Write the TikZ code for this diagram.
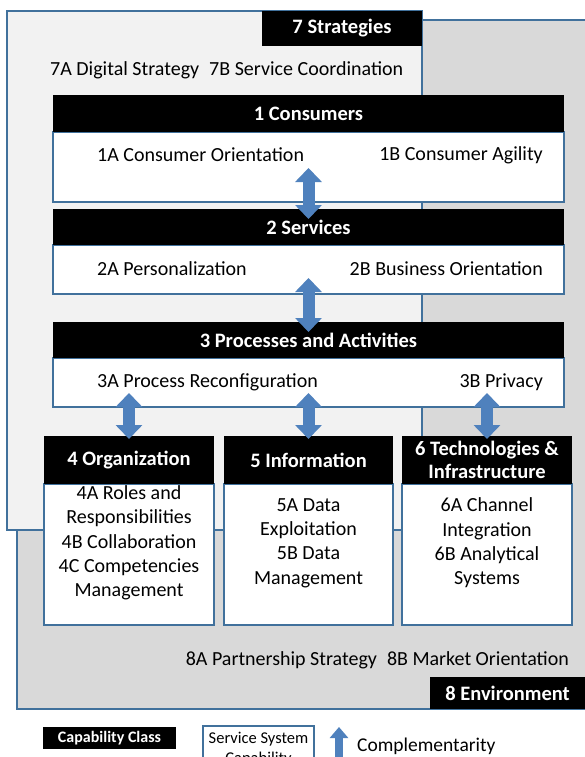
\documentclass[tikz,border=0pt]{standalone}
\usepackage{fontspec}
\setmainfont{Carlito}
\usetikzlibrary{arrows.meta}

\definecolor{frame}{HTML}{41719C}
\definecolor{compl}{HTML}{4F81BD}
\definecolor{stratgray}{HTML}{F2F2F2}
\definecolor{envgray}{HTML}{D9D9D9}

\begin{document}
\begin{tikzpicture}[x=1pt,y=-1pt,
    every node/.style={font=\fontsize{20}{24.3}\selectfont},
    panel/.style={draw=frame,line width=1.2pt,inner sep=0pt,outer sep=0pt},
    head/.style={fill=black,text=white,inner sep=0pt,outer sep=0pt,align=center,
        font=\fontsize{20.5}{23}\selectfont\bfseries},
    cell/.style={panel,fill=white},
    item/.style={inner sep=0pt,align=center},
    twoway/.style={compl,line width=12pt,{Triangle[width=26pt,length=14pt]}-{Triangle[width=26pt,length=14pt]}}]
    \clip (0,0) rectangle (585,757);

    % outer layers
    \node[panel,fill=envgray,minimum width=583,minimum height=689] (env) at (308.5,364.5) {};
    \node[panel,fill=stratgray,minimum width=415,minimum height=519] (strat) at (214.5,270.5) {};
    \node[head,minimum width=160,minimum height=35] (stratL) at (342,28.5) {7 Strategies};
    \node[head,minimum width=155,minimum height=32] (envL) at (507.5,693) {8 Environment};
    \node[item,anchor=west] (strat7) at (50,70) {7A Digital Strategy\enspace 7B Service Coordination};
    \node[item,anchor=east] (env8) at (569,660) {8A Partnership Strategy\enspace 8B Market Orientation};

    % layers 1-3
    \node[cell,minimum width=511,minimum height=70] (consB) at (308.5,167) {};
    \node[head,minimum width=511,minimum height=37] (consH) at (308.5,113.5) {1 Consumers};
    \node[item,anchor=west] (cons1A) at (97,155) {1A Consumer Orientation};
    \node[item,anchor=east] (cons1B) at (543,155) {1B Consumer Agility};

    \node[cell,minimum width=511,minimum height=49] (servB) at (308.5,269.5) {};
    \node[head,minimum width=511,minimum height=36] (servH) at (308.5,227) {2 Services};
    \node[item,anchor=west] (serv2A) at (97,269) {2A Personalization};
    \node[item,anchor=east] (serv2B) at (543,269) {2B Business Orientation};

    \node[cell,minimum width=511,minimum height=49] (procB) at (308.5,382.5) {};
    \node[head,minimum width=511,minimum height=36] (procH) at (308.5,340) {3 Processes and Activities};
    \node[item,anchor=west] (proc3A) at (97,382) {3A Process Reconfiguration};
    \node[item,anchor=east] (proc3B) at (543,382) {3B Privacy};

    % layers 4-6
    \node[cell,minimum width=170,minimum height=141] (orgB) at (129,554.5) {};
    \node[head,minimum width=170,minimum height=48] (orgH) at (129,460) {4 Organization};
    \node[item] (orgT) at (129,543) {4A Roles and\\Responsibilities\\4B Collaboration\\4C Competencies\\Management};

    \node[cell,minimum width=169,minimum height=141] (infoB) at (308.5,554.5) {};
    \node[head,minimum width=169,minimum height=48] (infoH) at (308.5,460) {5 Information};
    \node[item] (infoT) at (308.5,543) {5A Data\\Exploitation\\5B Data\\Management};

    \node[cell,minimum width=170,minimum height=141] (techB) at (487,554.5) {};
    \node[head,minimum width=170,minimum height=48] (techH) at (487,460) {6 Technologies \&\\Infrastructure};
    \node[item] (techT) at (487,543) {6A Channel\\Integration\\6B Analytical\\Systems};

    % complementarities
    \draw[twoway] ([yshift=34pt]consB.south) -- ([yshift=-10pt]servH.north);
    \draw[twoway] ([yshift=16pt]servB.south) -- ([yshift=-10pt]procH.north);
    \draw[twoway] ([yshift=14pt]orgH.north |- procB.south) -- ([yshift=-3pt]orgH.north);
    \draw[twoway] ([yshift=14pt]infoH.north |- procB.south) -- ([yshift=-3pt]infoH.north);
    \draw[twoway] ([yshift=14pt]techH.north |- procB.south) -- ([yshift=-3pt]techH.north);

    % legend
    \node[head,minimum width=133,minimum height=22,font=\fontsize{16}{18}\selectfont\bfseries] (keyClass) at (109.5,738) {Capability Class};
    \node[cell,minimum width=111,minimum height=46,align=center,font=\fontsize{16.5}{20}\selectfont] (keyCap) at (258.5,749) {Service System\\Capability};
    \coordinate (keyTop) at (339,727);
    \coordinate (keyBot) at (339,771);
    \draw[compl,line width=8pt,{Triangle[width=18pt,length=11pt]}-{Triangle[width=18pt,length=11pt]}] (keyTop) -- (keyBot);
    \node[item,anchor=west,font=\fontsize{19.5}{22}\selectfont] (keyText) at (357,746) {Complementarity};
\end{tikzpicture}
\end{document}
